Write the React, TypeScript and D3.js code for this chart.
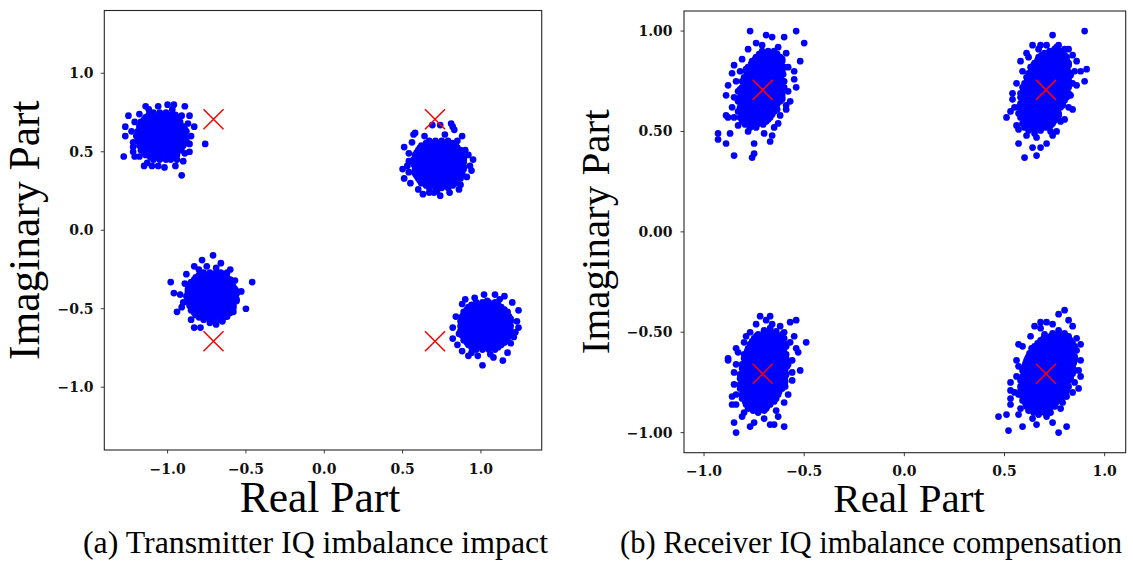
import React from "react";
import * as d3 from "d3";

// ---------- DATA (values in hundredths of a unit) ----------
// Point lists: "x,y x,y ..."   Row lists (denser cluster cores): "y:x x x|y:x x ..."

// Transmitter IQ imbalance impact (left panel)
const txClusterTopLeft =
  "-109,75 -105,75 -101,75 -114,72 -111,72 -107,72 -104,72 -100,72 -97,72 -94,72 -117,69 -113,69 -110,69 -106,69 -103,69 -99,69 -96,69 -92,69 " +
  "-118,66 -115,66 -111,66 -108,66 -104,66 -101,66 -97,66 -94,66 -90,66 -119,63 -116,63 -112,63 -109,63 -105,63 -102,63 -98,63 -95,63 -91,63 -88,63 " +
  "-120,60 -117,60 -113,60 -110,60 -106,60 -103,60 -99,60 -96,60 -92,60 -89,60 -119,57 -116,57 -112,57 -109,57 -105,57 -102,57 -98,57 -95,57 -91,57 -88,57 " +
  "-118,54 -115,54 -111,54 -108,54 -104,54 -101,54 -97,54 -94,54 -90,54 -117,51 -113,51 -110,51 -106,51 -103,51 -99,51 -96,51 -92,51 " +
  "-114,48 -111,48 -107,48 -104,48 -100,48 -97,48 -94,48 -109,45 -105,45 -101,45 -98,45 " +
  "-125,73 -127,66 -127,60 -128,47 -122,50 -121,47 -110,41 -102,40 -95,41 -91,35 -90,44 -76,55 -83,66 -89,79 -96,80 -100,80 -106,79 -114,79 -86,73 -85,60 -86,50 " +
  "-123,63 -122,56 -121,69 -118,74 -112,77 -97,77 -91,73 -87,68 -86,55 -89,49 -94,45 -113,43 -118,47 -122,53 -115,41 -106,41";
const txCoreTopLeft =
  "73.5:-112 -109 -105 -102 -98 -95|70.5:-115 -112 -108 -105 -101 -98 -94|67.5:-116 -113 -109 -106 -102 -99 -95 -92|" +
  "64.5:-117 -114 -110 -107 -103 -100 -96 -93 -89|61.5:-118 -115 -111 -108 -104 -101 -97 -94 -90|58.5:-118 -114 -111 -107 -104 -100 -97 -93 -90|" +
  "55.5:-117 -113 -110 -106 -103 -99 -96 -92 -89|52.5:-116 -112 -109 -105 -102 -98 -95 -91|49.5:-115 -112 -108 -105 -101 -98 -94|46.5:-111 -107 -104 -100 -97";

const txClusterTopRight =
  "67,57 71,57 75,57 79,57 62,54 66,54 69,54 73,54 76,54 80,54 84,54 60,51 63,51 67,51 70,51 74,51 77,51 81,51 84,51 87,51 " +
  "58,48 61,48 65,48 68,48 72,48 75,48 79,48 82,48 86,48 88,48 57,45 60,45 64,45 67,45 71,45 74,45 78,45 81,45 85,45 89,45 " +
  "57,42 60,42 64,42 67,42 71,42 74,42 78,42 81,42 85,42 88,42 58,39 62,39 65,39 69,39 72,39 76,39 79,39 83,39 86,39 89,39 " +
  "58,36 61,36 65,36 68,36 72,36 75,36 79,36 82,36 86,36 88,36 60,33 63,33 67,33 70,33 74,33 77,33 81,33 84,33 87,33 " +
  "62,30 66,30 69,30 73,30 76,30 80,30 84,30 67,27 71,27 75,27 79,27 " +
  "69,67 74,67 81,68 82,66 88,60 57,61 51,53 54,49 54,44 50,39 51,33 90,51 95,45 93,41 91,34 87,29 80,24 74,22 67,24 60,26 55,30 63,23 " +
  "58,62 83,64 92,48 54,37 86,26 70,24 94,38 56,56 64,60 77,61 85,57 53,41 72,25";
const txCoreTopRight =
  "55.5:65 69 72 76 79 82|52.5:61 65 68 72 75 79 82 85|49.5:59 62 66 69 73 76 80 83 87|46.5:58 61 65 69 72 76 79 83 86 89|" +
  "43.5:57 61 64 68 71 75 78 82 86 89|40.5:58 61 65 68 72 75 79 82 86 89|37.5:58 62 65 69 72 76 79 83 86 88|34.5:59 62 66 69 73 76 80 83 87|" +
  "31.5:61 65 68 72 75 79 82 85|28.5:65 69 72 76 79 82";

const txClusterBottomLeft =
  "-77,-27 -73,-27 -69,-27 -66,-27 -82,-30 -79,-30 -75,-30 -72,-30 -68,-30 -65,-30 -62,-30 -85,-33 -81,-33 -78,-33 -74,-33 -71,-33 -67,-33 -64,-33 -60,-33 " +
  "-86,-36 -83,-36 -79,-36 -76,-36 -72,-36 -69,-36 -65,-36 -62,-36 -58,-36 -87,-39 -84,-39 -80,-39 -77,-39 -73,-39 -70,-39 -66,-39 -63,-39 -59,-39 -56,-39 " +
  "-88,-42 -85,-42 -81,-42 -78,-42 -74,-42 -71,-42 -67,-42 -64,-42 -60,-42 -57,-42 -87,-45 -84,-45 -80,-45 -77,-45 -73,-45 -70,-45 -66,-45 -63,-45 -59,-45 -56,-45 " +
  "-86,-48 -83,-48 -79,-48 -76,-48 -72,-48 -69,-48 -65,-48 -62,-48 -58,-48 -85,-51 -81,-51 -78,-51 -74,-51 -71,-51 -67,-51 -64,-51 -60,-51 " +
  "-82,-54 -79,-54 -75,-54 -72,-54 -68,-54 -65,-54 -62,-54 -77,-57 -73,-57 -70,-57 -66,-57 " +
  "-71,-16 -78,-19 -83,-23 -69,-24 -62,-27 -98,-33 -96,-40 -46,-33 -50,-50 -94,-52 -83,-62 -79,-62 -57,-32 -56,-44 -58,-52 -65,-58 -73,-59 -85,-57 " +
  "-92,-41 -89,-34 -75,-23 -66,-21 -90,-46 -53,-39 -88,-28 -62,-55 -69,-60 -91,-49 -80,-25 -60,-25";
const txCoreBottomLeft =
  "-28.5:-80 -77 -73 -70 -66 -64|-31.5:-83 -80 -77 -73 -70 -66 -63 -60|-34.5:-86 -83 -79 -76 -72 -69 -65 -62 -59|" +
  "-37.5:-87 -84 -81 -77 -74 -70 -67 -63 -60 -57|-40.5:-87 -83 -80 -76 -73 -69 -66 -62 -59 -56|-43.5:-87 -83 -80 -76 -73 -69 -66 -62 -59 -57|" +
  "-46.5:-86 -83 -79 -76 -72 -69 -65 -62 -58|-49.5:-85 -82 -78 -75 -71 -68 -64 -61 -58|-52.5:-83 -80 -77 -73 -70 -66 -63 -60|-55.5:-80 -77 -73 -70 -66 -64";

const txClusterBottomRight =
  "97,-46 101,-46 105,-46 109,-46 92,-49 95,-49 99,-49 102,-49 106,-49 109,-49 113,-49 89,-52 93,-52 96,-52 100,-52 103,-52 107,-52 110,-52 114,-52 117,-52 " +
  "88,-55 91,-55 95,-55 98,-55 102,-55 105,-55 109,-55 112,-55 116,-55 118,-55 87,-58 90,-58 94,-58 97,-58 101,-58 104,-58 108,-58 111,-58 115,-58 119,-58 " +
  "87,-61 90,-61 94,-61 97,-61 101,-61 104,-61 108,-61 111,-61 115,-61 119,-61 87,-64 91,-64 94,-64 98,-64 101,-64 105,-64 108,-64 112,-64 115,-64 119,-64 " +
  "88,-67 91,-67 95,-67 98,-67 102,-67 105,-67 109,-67 112,-67 116,-67 118,-67 89,-70 93,-70 96,-70 100,-70 103,-70 107,-70 110,-70 114,-70 117,-70 " +
  "92,-73 95,-73 99,-73 102,-73 106,-73 109,-73 113,-73 97,-76 101,-76 105,-76 109,-76 " +
  "88,-47 102,-41 109,-41 115,-42 124,-51 82,-62 82,-69 88,-77 101,-86 114,-83 108,-81 119,-72 123,-58 122,-65 94,-78 96,-43 120,-46 84,-55 " +
  "85,-73 92,-80 117,-78 121,-68 124,-62 112,-44 98,-80 106,-79 104,-45 86,-66 90,-44";
const txCoreBottomRight =
  "-47.5:94 97 101 104 108 111|-50.5:91 94 98 101 105 108 112 115|-53.5:89 92 96 99 103 106 110 113 117|" +
  "-56.5:88 92 95 99 102 106 109 113 116 119|-59.5:88.5 92 95.5 99 102.5 106 109.5 113 117|-62.5:89 92 96 99 103 106 110 113 117|" +
  "-65.5:89 93 96 100 103 107 110 114 117|-68.5:90 94 97 101 104 108 111 115|-71.5:91 94 98 101 105 108 112 115|-74.5:94 97 101 104 108 111";

// Receiver IQ imbalance compensation (right panel)
const rxClusterTopLeft =
  "-77,52 -74,52 -81,55 -78,55 -75,55 -72,55 -69,55 -82,57 -79,57 -76,57 -73,57 -70,57 -67,57 -83,60 -80,60 -77,60 -74,60 -71,60 -68,60 -65,60 " +
  "-82,62 -79,62 -76,62 -73,62 -70,62 -67,62 -64,62 -83,65 -80,65 -77,65 -74,65 -71,65 -68,65 -65,65 -62,65 -82,67 -79,67 -76,67 -73,67 -70,67 -67,67 -64,67 -61,67 " +
  "-83,70 -80,70 -77,70 -74,70 -71,70 -68,70 -65,70 -62,70 -81,72 -78,72 -75,72 -72,72 -69,72 -66,72 -63,72 -60,72 -81,75 -78,75 -75,75 -72,75 -69,75 -66,75 -63,75 -60,75 " +
  "-80,77 -77,77 -74,77 -71,77 -68,77 -65,77 -62,77 -79,80 -76,80 -73,80 -70,80 -67,80 -64,80 -61,80 -78,82 -75,82 -72,82 -69,82 -66,82 -63,82 -60,82 " +
  "-76,85 -73,85 -70,85 -67,85 -64,85 -61,85 -74,87 -71,87 -68,87 -65,87 -62,87 -71,90 -68,90 -65,90 " +
  "-77,100 -69,98 -54,100 -50,94 -52,85 -55,80 -54,72 -57,65 -59,61 -63,54 -66,48 -67,45 -75,44 -75,39 -76,37 -85,38 -89,44 -93,49 -93,46 -87,49 -89,58 -88,57 " +
  "-89,68 -88,73 -86,79 -85,83 -79,81 -78,91 -74,94 -66,97 -60,97 -59,89 -55,76 -86,62 -85,67 -84,75 -82,80 -81,86 -71,93 -63,92 -61,86 -58,82 -58,70 -59,63 " +
  "-62,58 -65,52 -70,49 -78,50 -83,53 -85,57";
const rxCoreTopLeft =
  "53.5:-79.5 -76.5 -73.5 -70.5|56:-80 -77 -74 -71 -68|58.5:-81 -78 -75 -72 -69 -66|61:-81.5 -78.5 -75.5 -72.5 -69.5 -66.5 -63.5|" +
  "63.5:-81.5 -78.5 -75.5 -72.5 -69.5 -66.5 -63.5|66:-81.5 -78.5 -75.5 -72.5 -69.5 -66.5 -63.5 -61|68.5:-81.5 -78.5 -75.5 -72.5 -69.5 -66.5 -63.5 -61|" +
  "71:-82 -79 -76 -73 -70 -67 -64 -61|73.5:-79.5 -76.5 -73.5 -70.5 -67.5 -64.5 -61.5|76:-79.5 -76.5 -73.5 -70.5 -67.5 -64.5 -61.5|" +
  "78.5:-78.5 -75.5 -72.5 -69.5 -66.5 -63.5 -60.5|81:-77.5 -74.5 -71.5 -68.5 -65.5 -62.5|83.5:-76.5 -73.5 -70.5 -67.5 -64.5 -61.5|" +
  "86:-74.5 -71.5 -68.5 -65.5 -62.5|88.5:-72.5 -69.5 -66.5 -63.5";

const rxClusterTopRight =
  "65,49 60,52 63,52 66,52 69,52 71,52 59,54 62,54 65,54 68,54 71,54 74,54 58,57 61,57 64,57 67,57 70,57 73,57 76,57 57,59 60,59 63,59 66,59 69,59 72,59 75,59 77,59 " +
  "57,62 60,62 63,62 66,62 69,62 72,62 75,62 78,62 58,64 61,64 64,64 67,64 70,64 73,64 76,64 79,64 58,67 61,67 64,67 67,67 70,67 73,67 76,67 79,67 81,67 " +
  "58,69 61,69 64,69 67,69 70,69 73,69 76,69 79,69 82,69 59,72 62,72 65,72 68,72 71,72 74,72 77,72 80,72 82,72 60,74 63,74 66,74 69,74 72,74 75,74 78,74 81,74 " +
  "61,77 64,77 67,77 70,77 73,77 76,77 79,77 82,77 62,79 65,79 68,79 71,79 74,79 77,79 80,79 83,79 63,82 66,82 69,82 72,82 75,82 78,82 81,82 " +
  "65,84 68,84 71,84 74,84 77,84 80,84 82,84 67,87 70,87 73,87 76,87 79,87 81,87 70,89 73,89 76,89 79,89 75,91 " +
  "90,100 74,98 64,93 67,91 62,87 59,80 54,69 51,57 56,53 57,44 60,37 64,42 66,38 68,42 71,44 74,48 76,50 80,56 83,68 86,73 90,75 91,81 88,80 86,85 " +
  "82,91 80,91 76,92 71,93 82,78 84,61 55,62 54,66 56,74 58,85 61,89 68,93 84,88 85,80 84,74 82,62 78,55 73,50 66,47 61,48 57,51 53,60 77,93";
const rxCoreTopRight =
  "50.5:62 65 68|53:61.5 64.5 67.5 70.5 73|55.5:60.5 63.5 66.5 69.5 72.5 75|58:59.5 62.5 65.5 68.5 71.5 74.5 77|" +
  "60.5:58.5 61.5 64.5 67.5 70.5 73.5 76.5|63:58.5 61.5 64.5 67.5 70.5 73.5 76.5 79|65.5:59.5 62.5 65.5 68.5 71.5 74.5 77.5 80|" +
  "68:59.5 62.5 65.5 68.5 71.5 74.5 77.5 80.5|70.5:59.5 62.5 65.5 68.5 71.5 74.5 77.5 80.5|73:60.5 63.5 66.5 69.5 72.5 75.5 78.5 81.5|" +
  "75.5:61.5 64.5 67.5 70.5 73.5 76.5 79.5 82|78:62.5 65.5 68.5 71.5 74.5 77.5 80.5 83|80.5:63.5 66.5 69.5 72.5 75.5 78.5 81.5|" +
  "83:64.5 67.5 70.5 73.5 76.5 79.5 82|85.5:66.5 69.5 72.5 75.5 78.5 81|88:68.5 71.5 74.5 77.5 80|90:72.5 75.5 78";

const rxClusterBottomLeft =
  "-67,-48 -73,-51 -70,-51 -67,-51 -64,-51 -61,-51 -75,-53 -72,-53 -69,-53 -66,-53 -63,-53 -60,-53 -77,-56 -74,-56 -71,-56 -68,-56 -65,-56 -62,-56 -59,-56 " +
  "-78,-58 -75,-58 -72,-58 -69,-58 -66,-58 -63,-58 -60,-58 -80,-61 -77,-61 -74,-61 -71,-61 -68,-61 -65,-61 -62,-61 -59,-61 -80,-63 -77,-63 -74,-63 -71,-63 -68,-63 -65,-63 -62,-63 -59,-63 " +
  "-81,-66 -78,-66 -75,-66 -72,-66 -69,-66 -66,-66 -63,-66 -60,-66 -58,-66 -81,-68 -78,-68 -75,-68 -72,-68 -69,-68 -66,-68 -63,-68 -60,-68 " +
  "-82,-71 -79,-71 -76,-71 -73,-71 -70,-71 -67,-71 -64,-71 -61,-71 -59,-71 -82,-73 -79,-73 -76,-73 -73,-73 -70,-73 -67,-73 -64,-73 -61,-73 " +
  "-82,-76 -79,-76 -76,-76 -73,-76 -70,-76 -67,-76 -64,-76 -61,-76 -82,-78 -79,-78 -76,-78 -73,-78 -70,-78 -67,-78 -64,-78 -61,-78 " +
  "-81,-81 -78,-81 -75,-81 -72,-81 -69,-81 -66,-81 -63,-81 -81,-83 -78,-83 -75,-83 -72,-83 -69,-83 -66,-83 -64,-83 -79,-86 -76,-86 -73,-86 -70,-86 -67,-86 " +
  "-78,-88 -75,-88 -72,-88 -69,-88 -73,-90 " +
  "-72,-42 -67,-42 -69,-44 -54,-44 -57,-45 -49,-55 -53,-60 -52,-69 -56,-74 -60,-85 -63,-92 -60,-97 -65,-96 -67,-96 -75,-95 -77,-97 -81,-92 -84,-100 -85,-95 " +
  "-86,-86 -86,-82 -84,-81 -88,-63 -88,-64 -84,-66 -80,-55 -77,-50 -70,-49 -62,-47 -55,-52 -54,-58 -84,-58 -85,-70 -85,-76 -84,-86 -80,-90 -70,-93 -64,-89 " +
  "-58,-81 -56,-70 -56,-64 -57,-55 -60,-50 -66,-46 -74,-46 -79,-52 -83,-60";
const rxCoreBottomLeft =
  "-49.5:-70 -67 -64|-52:-74 -71 -68 -65 -62|-54.5:-76 -73 -70 -67 -64 -61|-57:-76.5 -73.5 -70.5 -67.5 -64.5 -61.5 -59|" +
  "-59.5:-78.5 -75.5 -72.5 -69.5 -66.5 -63.5 -60.5|-62:-78.5 -75.5 -72.5 -69.5 -66.5 -63.5 -60.5|-64.5:-79.5 -76.5 -73.5 -70.5 -67.5 -64.5 -61.5 -58.5|" +
  "-67:-79.5 -76.5 -73.5 -70.5 -67.5 -64.5 -61.5 -58.5|-69.5:-80.5 -77.5 -74.5 -71.5 -68.5 -65.5 -62.5 -59.5|-72:-80.5 -77.5 -74.5 -71.5 -68.5 -65.5 -62.5 -59.5|" +
  "-74.5:-80.5 -77.5 -74.5 -71.5 -68.5 -65.5 -62.5 -59.5|-77:-80.5 -77.5 -74.5 -71.5 -68.5 -65.5 -62.5 -59.5|-79.5:-80.5 -77.5 -74.5 -71.5 -68.5 -65.5 -62.5|" +
  "-82:-79.5 -76.5 -73.5 -70.5 -67.5 -64.5|-84.5:-79.5 -76.5 -73.5 -70.5 -67.5 -65|-87:-77.5 -74.5 -71.5 -68.5|-89:-75.5 -72.5 -70";

const rxClusterBottomRight =
  "77,-49 70,-52 73,-52 76,-52 79,-52 82,-52 68,-54 71,-54 74,-54 77,-54 80,-54 83,-54 65,-57 68,-57 71,-57 74,-57 77,-57 80,-57 83,-57 85,-57 " +
  "64,-59 67,-59 70,-59 73,-59 76,-59 79,-59 82,-59 85,-59 62,-62 65,-62 68,-62 71,-62 74,-62 77,-62 80,-62 83,-62 85,-62 61,-64 64,-64 67,-64 70,-64 73,-64 76,-64 79,-64 82,-64 85,-64 " +
  "60,-67 63,-67 66,-67 69,-67 72,-67 75,-67 78,-67 81,-67 84,-67 59,-69 62,-69 65,-69 68,-69 71,-69 74,-69 77,-69 80,-69 83,-69 85,-69 " +
  "59,-72 62,-72 65,-72 68,-72 71,-72 74,-72 77,-72 80,-72 83,-72 58,-74 61,-74 64,-74 67,-74 70,-74 73,-74 76,-74 79,-74 82,-74 " +
  "58,-77 61,-77 64,-77 67,-77 70,-77 73,-77 76,-77 79,-77 82,-77 58,-79 61,-79 64,-79 67,-79 70,-79 73,-79 76,-79 79,-79 81,-79 " +
  "59,-82 62,-82 65,-82 68,-82 71,-82 74,-82 77,-82 80,-82 59,-84 62,-84 65,-84 68,-84 71,-84 74,-84 77,-84 61,-87 64,-87 67,-87 70,-87 73,-87 75,-87 " +
  "62,-89 65,-89 68,-89 71,-89 67,-91 " +
  "80,-39 77,-41 82,-44 71,-45 68,-45 65,-47 57,-56 86,-53 86,-59 87,-69 85,-75 87,-78 81,-82 78,-88 81,-97 77,-100 66,-96 59,-97 52,-99 47,-92 51,-91 " +
  "57,-91 53,-86 53,-83 53,-79 53,-75 57,-81 57,-67 70,-51 74,-95 71,-92 84,-47 88,-56 88,-64 88,-72 84,-80 79,-85 73,-90 64,-93 58,-88 55,-80 56,-72 " +
  "56,-64 59,-57 63,-52 68,-48 74,-46";
const rxCoreBottomRight =
  "-50.5:74 77 80|-53:69.5 72.5 75.5 78.5 81.5|-55.5:66.5 69.5 72.5 75.5 78.5 81.5 84|-58:63.5 66.5 69.5 72.5 75.5 78.5 81.5 84.5|" +
  "-60.5:62.5 65.5 68.5 71.5 74.5 77.5 80.5 83.5|-63:61.5 64.5 67.5 70.5 73.5 76.5 79.5 82.5 85|-65.5:60.5 63.5 66.5 69.5 72.5 75.5 78.5 81.5 84.5|" +
  "-68:60.5 63.5 66.5 69.5 72.5 75.5 78.5 81.5 84|-70.5:60.5 63.5 66.5 69.5 72.5 75.5 78.5 81.5 84|-73:59.5 62.5 65.5 68.5 71.5 74.5 77.5 80.5 83|" +
  "-75.5:59.5 62.5 65.5 68.5 71.5 74.5 77.5 80.5|-78:59.5 62.5 65.5 68.5 71.5 74.5 77.5 80.5|-80.5:60 63 66 69 72 75 78 80.5|" +
  "-83:60.5 63.5 66.5 69.5 72.5 75.5 78|-85.5:60.5 63.5 66.5 69.5 72.5 75.5|-88:63.5 66.5 69.5 72.5|-90:64.5 67.5 70";

// Ideal QPSK constellation points (red crosses)
const idealX = [-0.7071, 0.7071, -0.7071, 0.7071];
const idealY = [0.7071, 0.7071, -0.7071, -0.7071];

const tickValues = [-1, -0.5, 0, 0.5, 1];
const txXTickLabels = ["\u22121.0", "\u22120.5", "0.0", "0.5", "1.0"];
const txYTickLabels = ["\u22121.0", "\u22120.5", "0.0", "0.5", "1.0"];
const rxXTickLabels = ["\u22121.0", "\u22120.5", "0.0", "0.5", "1.0"];
const rxYTickLabels = ["\u22121.00", "\u22120.50", "0.00", "0.50", "1.00"];

const xAxisLabel = "Real Part";
const yAxisLabel = "Imaginary Part";
const captionA = "(a) Transmitter IQ imbalance impact";
const captionB = "(b) Receiver IQ imbalance compensation";

// ---------- helpers ----------
function parsePoints(s: string): [number, number][] {
  return s
    .trim()
    .split(/\s+/)
    .map((p) => {
      const [a, b] = p.split(",").map(Number);
      return [a / 100, b / 100] as [number, number];
    });
}

function parseRows(s: string): [number, number][] {
  const out: [number, number][] = [];
  s.split("|").forEach((row) => {
    const [yStr, xs] = row.split(":");
    const yv = Number(yStr) / 100;
    xs.trim()
      .split(/\s+/)
      .forEach((xv) => out.push([Number(xv) / 100, yv]));
  });
  return out;
}

const SERIF = "'Liberation Serif', 'Times New Roman', serif";
const TICKFONT = "'DejaVu Serif', serif";
const AXIS_COLOR = "#262626";

type PanelCfg = {
  xDomain: [number, number];
  yDomain: [number, number];
  xRange: [number, number];
  yRange: [number, number]; // [bottom, top]
  clusters: string[];
  cores: string[];
  xTickLabels: string[];
  yTickLabels: string[];
  xLabelX: number;
  xLabelY: number;
  yLabelX: number;
  labelSize: number;
  yTickRight: number;
  xTickBaseline: number;
  caption: string;
  captionX: number;
  captionLen: number;
};

function Panel({ cfg }: { cfg: PanelCfg }) {
  const x = d3.scaleLinear().domain(cfg.xDomain).range(cfg.xRange);
  const y = d3.scaleLinear().domain(cfg.yDomain).range(cfg.yRange);
  const pts = [...cfg.cores.flatMap(parseRows), ...cfg.clusters.flatMap(parsePoints)];
  const [x0, x1] = cfg.xRange;
  const [yb, yt] = cfg.yRange;
  const cyMid = (yb + yt) / 2;
  const cross = 10;
  return (
    <g>
      {pts.map((p, i) => (
        <circle key={i} cx={x(p[0])} cy={y(p[1])} r={3.35} fill="#0000ff" />
      ))}
      {idealX.map((vx, i) => {
        const px = x(vx);
        const py = y(idealY[i]);
        return (
          <path
            key={"m" + i}
            d={`M${px - cross},${py - cross}L${px + cross},${py + cross}M${px - cross},${py + cross}L${px + cross},${py - cross}`}
            stroke="#ff0000"
            strokeWidth={1.5}
            fill="none"
          />
        );
      })}
      <rect x={x0} y={yt} width={x1 - x0} height={yb - yt} fill="none" stroke={AXIS_COLOR} strokeWidth={1.1} />
      {tickValues.map((t, i) => (
        <g key={"xt" + i}>
          <line x1={x(t)} x2={x(t)} y1={yb} y2={yb + 3.5} stroke={AXIS_COLOR} strokeWidth={0.9} />
          <text
            x={x(t)}
            y={cfg.xTickBaseline}
            textAnchor="middle"
            fontFamily={TICKFONT}
            fontWeight="bold"
            fontSize={14}
            fill="#111"
          >
            {cfg.xTickLabels[i]}
          </text>
        </g>
      ))}
      {tickValues.map((t, i) => (
        <g key={"yt" + i}>
          <line x1={x0 - 3.5} x2={x0} y1={y(t)} y2={y(t)} stroke={AXIS_COLOR} strokeWidth={0.9} />
          <text
            x={cfg.yTickRight}
            y={y(t) + 5}
            textAnchor="end"
            fontFamily={TICKFONT}
            fontWeight="bold"
            fontSize={14}
            fill="#111"
          >
            {cfg.yTickLabels[i]}
          </text>
        </g>
      ))}
      <text
        x={cfg.xLabelX}
        y={cfg.xLabelY}
        textAnchor="middle"
        fontFamily={SERIF}
        fontSize={cfg.labelSize}
        fill="#000"
      >
        {xAxisLabel}
      </text>
      <text
        transform={`translate(${cfg.yLabelX},${cyMid}) rotate(-90)`}
        textAnchor="middle"
        fontFamily={SERIF}
        fontSize={cfg.labelSize}
        fill="#000"
      >
        {yAxisLabel}
      </text>
      <text
        x={cfg.captionX}
        y={553}
        textAnchor="middle"
        fontFamily={SERIF}
        fontSize={31}
        textLength={cfg.captionLen}
        lengthAdjust="spacingAndGlyphs"
        fill="#000"
      >
        {cfg.caption}
      </text>
    </g>
  );
}

const leftCfg: PanelCfg = {
  xDomain: [-1.404, 1.388],
  yDomain: [-1.4, 1.4],
  xRange: [104.3, 541.7],
  yRange: [450, 10.5],
  clusters: [txClusterTopLeft, txClusterTopRight, txClusterBottomLeft, txClusterBottomRight],
  cores: [txCoreTopLeft, txCoreTopRight, txCoreBottomLeft, txCoreBottomRight],
  xTickLabels: txXTickLabels,
  yTickLabels: txYTickLabels,
  xLabelX: 320,
  xLabelY: 511.5,
  yLabelX: 39,
  labelSize: 43.5,
  yTickRight: 93.5,
  xTickBaseline: 473.5,
  caption: captionA,
  captionX: 315.5,
  captionLen: 465,
};

const rightCfg: PanelCfg = {
  xDomain: [-1.1, 1.105],
  yDomain: [-1.1, 1.1],
  xRange: [684, 1125.7],
  yRange: [452.7, 11],
  clusters: [rxClusterTopLeft, rxClusterTopRight, rxClusterBottomLeft, rxClusterBottomRight],
  cores: [rxCoreTopLeft, rxCoreTopRight, rxCoreBottomLeft, rxCoreBottomRight],
  xTickLabels: rxXTickLabels,
  yTickLabels: rxYTickLabels,
  xLabelX: 909,
  xLabelY: 512,
  yLabelX: 609,
  labelSize: 41,
  yTickRight: 672.5,
  xTickBaseline: 475.8,
  caption: captionB,
  captionX: 871,
  captionLen: 502,
};

export default function App() {
  return (
    <svg
      width={1133}
      height={563}
      viewBox="0 0 1133 563"
      style={{ position: "absolute", left: 0, top: 0, background: "#fff" }}
    >
      <rect x={0} y={0} width={1133} height={563} fill="#fff" />
      <Panel cfg={leftCfg} />
      <Panel cfg={rightCfg} />
    </svg>
  );
}
